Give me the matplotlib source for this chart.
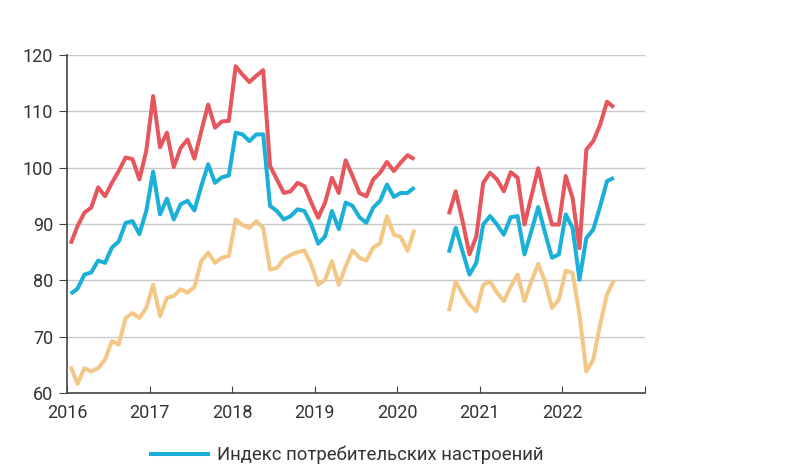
import numpy as np
import pandas as pd
import matplotlib
matplotlib.use('Agg')
import matplotlib.pyplot as plt

plt.rcParams['font.family'] = ['Roboto', 'DejaVu Sans']

# monthly data, Jan 2016 - Aug 2022 (gap Apr-Jul 2020)
months = pd.date_range('2016-01-01', '2022-08-01', freq='MS')
gap = [np.nan] * 4

expect_idx = [86.5, 89.6, 92.0, 92.9, 96.5, 94.9, 97.3, 99.4, 101.8, 101.5, 97.9, 103.0,
              112.7, 103.6, 106.2, 100.1, 103.5, 105.0, 101.6, 106.5, 111.2, 107.1, 108.2, 108.3,
              118.0, 116.5, 115.2, 116.3, 117.3, 100.3, 97.9, 95.5, 95.8, 97.3, 96.7, 93.8,
              91.1, 93.8, 98.2, 95.5, 101.3, 98.5, 95.5, 94.9, 97.9, 99.1, 101.0, 99.4,
              100.9, 102.2, 101.5] + gap + \
             [91.7, 95.8, 90.5, 84.6, 87.8, 97.3, 99.1, 97.9, 95.8, 99.2, 98.2, 89.9,
              94.9, 99.9, 94.6, 89.9, 89.9, 98.5, 94.6, 85.7, 103.2, 104.7, 107.6, 111.7, 110.7]

sentiment_idx = [77.6, 78.5, 81.0, 81.4, 83.5, 83.1, 85.8, 86.9, 90.2, 90.5, 88.2, 92.3,
                 99.3, 91.7, 94.5, 90.8, 93.5, 94.1, 92.4, 96.7, 100.6, 97.3, 98.3, 98.6,
                 106.2, 105.9, 104.7, 105.9, 105.9, 93.2, 92.3, 90.8, 91.4, 92.6, 92.3, 89.9,
                 86.5, 87.8, 92.3, 89.1, 93.8, 93.2, 91.2, 90.2, 92.9, 94.1, 97.0, 94.8,
                 95.5, 95.5, 96.5] + gap + \
                [84.9, 89.3, 85.1, 81.0, 83.1, 89.9, 91.4, 89.9, 88.1, 91.2, 91.4, 84.6,
                 88.7, 93.0, 88.4, 84.0, 84.6, 91.7, 89.3, 80.1, 87.5, 89.0, 93.1, 97.6, 98.2]

current_idx = [64.7, 61.6, 64.4, 63.8, 64.4, 65.9, 69.2, 68.6, 73.3, 74.2, 73.3, 75.1,
               79.2, 73.6, 76.9, 77.2, 78.4, 77.8, 78.8, 83.4, 84.9, 83.1, 84.0, 84.3,
               90.8, 89.8, 89.3, 90.5, 89.3, 81.9, 82.2, 83.8, 84.5, 85.0, 85.3, 82.8,
               79.2, 80.1, 83.4, 79.2, 82.5, 85.3, 84.0, 83.5, 85.8, 86.6, 91.4, 88.1,
               87.7, 85.2, 89.0] + gap + \
              [74.5, 79.8, 77.5, 75.7, 74.5, 79.2, 79.8, 77.8, 76.3, 78.9, 81.0, 76.3,
               79.8, 82.9, 79.8, 75.1, 76.6, 81.7, 81.3, 73.9, 63.8, 65.9, 72.1, 77.5, 80.0]

years = list(range(2016, 2023))
legend_label = 'Индекс потребительских настроений'

x = months.year + (months.month - 0.5) / 12

fig = plt.figure(figsize=(8, 4.7), dpi=100)
ax = fig.add_axes([0.084, 0.164, 0.722, 0.719])

ax.plot(x, current_idx, color='#f3c886', lw=2.9, solid_capstyle='butt')
ax.plot(x, expect_idx, color='#e5575c', lw=2.9, solid_capstyle='butt')
ax.plot(x, sentiment_idx, color='#1bb0d8', lw=2.9, solid_capstyle='butt', label=legend_label)

ax.set_xlim(2016, 2023)
ax.set_ylim(60, 120)
ax.set_yticks(range(60, 121, 10))
ax.set_xticks(years + [2023])
ax.set_xticklabels([str(y) for y in years] + [''])
ax.grid(axis='y', color='#c8c8c8', lw=1)
ax.set_axisbelow(True)

for s in ['top', 'right']:
    ax.spines[s].set_visible(False)
for s in ['left', 'bottom']:
    ax.spines[s].set_color('#444444')
    ax.spines[s].set_linewidth(1.2)
ax.tick_params(axis='y', length=6, color='#444444', labelsize=13, labelcolor='#333333', pad=4)
ax.tick_params(axis='x', direction='in', length=5, color='#444444', labelsize=13,
               labelcolor='#333333', pad=8)

fig.legend(loc='center', bbox_to_anchor=(0.433, 0.032), frameon=False, fontsize=13.3,
           handlelength=3.3, handletextpad=0.4, labelcolor='#333333')

plt.savefig('out.png', dpi=100)
